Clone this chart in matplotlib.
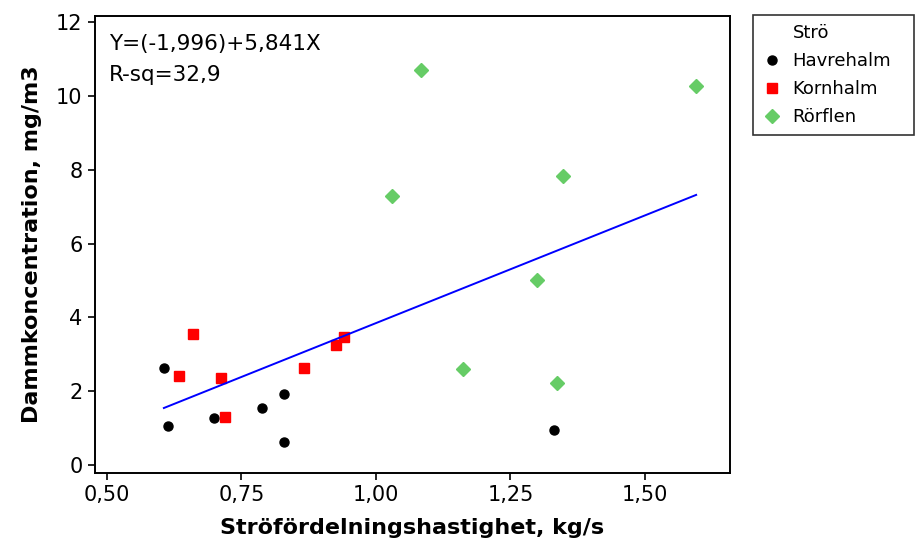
import matplotlib
matplotlib.use("Agg")
import numpy as np
from matplotlib import pyplot as plt
from matplotlib.lines import Line2D

# Havrehalm
havre_x = [0.606, 0.613, 0.699, 0.789, 0.830, 0.830, 1.331]
havre_y = [2.62, 1.06, 1.27, 1.54, 1.92, 0.62, 0.95]

# Kornhalm
korn_x = [0.660, 0.634, 0.713, 0.720, 0.866, 0.926, 0.941]
korn_y = [3.56, 2.42, 2.37, 1.29, 2.64, 3.24, 3.46]

# Rörflen
ror_x = [1.083, 1.595, 1.348, 1.030, 1.300, 1.162, 1.337]
ror_y = [10.70, 10.26, 7.84, 7.30, 5.02, 2.59, 2.21]

# regressionslinje
b0 = -1.996
b1 = 5.841

x_ticks = [0.50, 0.75, 1.00, 1.25, 1.50]
x_ticklabels = ["0,50", "0,75", "1,00", "1,25", "1,50"]
y_ticks = [0, 2, 4, 6, 8, 10, 12]

plt.rcParams["font.family"] = "DejaVu Sans"

fig = plt.figure(figsize=(9.16, 5.43), dpi=100)
ax = fig.add_axes([0.1037, 0.129, 0.797 - 0.1037, 0.9705 - 0.129])

ax.plot(havre_x, havre_y, "o", color="black", ms=6.5, label="Havrehalm")
ax.plot(korn_x, korn_y, "s", color="#ff0000", ms=7, label="Kornhalm")
ax.plot(ror_x, ror_y, "D", color="#66cc66", ms=7.5, label="Rörflen")

alla_x = np.array(havre_x + korn_x + ror_x)
xl = np.array([alla_x.min(), alla_x.max()])
ax.plot(xl, b0 + b1 * xl, color="#0000ff", lw=1.4)

ax.text(0.022, 0.96, "Y=(-1,996)+5,841X\nR-sq=32,9", transform=ax.transAxes,
        va="top", ha="left", fontsize=15.5, linespacing=1.65)

ax.set_xlim(0.478, 1.658)
ax.set_ylim(-0.217, 12.17)
ax.set_xticks(x_ticks)
ax.set_xticklabels(x_ticklabels)
ax.set_yticks(y_ticks)
ax.tick_params(labelsize=15, direction="out", length=5, width=1.2, pad=4)
for s in ax.spines.values():
    s.set_linewidth(1.4)

ax.set_xlabel("Ströfördelningshastighet, kg/s", fontsize=16, fontweight="bold", labelpad=9)
ax.set_ylabel("Dammkoncentration, mg/m3", fontsize=16, fontweight="bold", labelpad=10)

# legend med "Strö" som första rad utan markör
handles, labels = ax.get_legend_handles_labels()
tom = Line2D([], [], linestyle="none")
leg = fig.legend([tom] + handles, ["Strö"] + labels,
                 loc="upper left",
                 bbox_to_anchor=(753 / 916, 1 - 15 / 543, 161 / 916, 0.0),
                 mode="expand",
                 fontsize=13, frameon=True, fancybox=False, borderpad=0.5,
                 labelspacing=0.55, handletextpad=0.6, handlelength=1.1,
                 borderaxespad=0)
leg.get_frame().set_edgecolor("black")
leg.get_frame().set_linewidth(1.2)

plt.savefig("out.png", dpi=100)
